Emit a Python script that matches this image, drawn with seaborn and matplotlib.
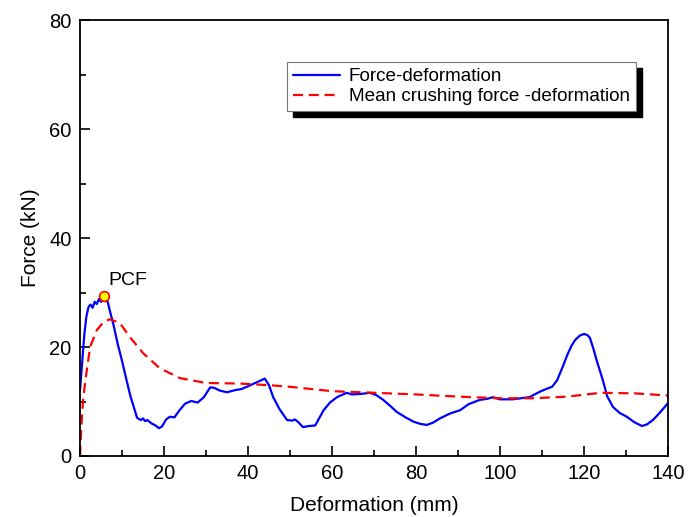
import numpy as np
import matplotlib
matplotlib.use("Agg")
import matplotlib.pyplot as plt
import seaborn as sns
from matplotlib.patches import Rectangle
from matplotlib.ticker import MultipleLocator

# force-deformation curve (mm, kN)
force_x = [0, 0.5, 1, 1.5, 2, 2.5, 3, 3.5, 4, 4.5, 5, 5.5, 6, 6.5, 7, 8, 9, 10, 11, 12,
           13, 13.6, 14.5, 15, 15.5, 16, 17, 18, 18.8, 19.5, 20.5, 21.4, 22.5, 23.5, 25,
           26.5, 28, 29.5, 31, 32, 33.3, 35, 37, 38.5, 40, 42, 44, 45, 46, 47.5, 49.3,
           50.5, 51.2, 52, 53.1, 54.5, 56, 57, 58, 59.5, 61.2, 63.5, 64.7, 67, 69, 70.5,
           72.2, 74, 75.4, 77.5, 79.4, 81, 82.6, 84, 85.7, 88.1, 90.5, 92.5, 95.2, 97,
           98.3, 100, 103, 105, 107, 109.5, 111, 112.4, 113.6, 115, 116, 117, 117.9, 119,
           120, 120.8, 121.4, 122.2, 123, 124.5, 125.5, 126.9, 128.5, 130.2, 132, 133.8,
           135, 136.4, 138, 140]
force_y = [12, 17, 22, 25.5, 27.3, 27.8, 27.2, 28.3, 27.9, 28.8, 28.3, 29.0, 28.4, 28.6,
           27.0, 24, 20.5, 17.5, 14.2, 11, 8.5, 7, 6.6, 6.9, 6.4, 6.6, 6.0, 5.6, 5.1, 5.4,
           6.7, 7.2, 7.1, 8.2, 9.6, 10.1, 9.8, 10.8, 12.6, 12.5, 12.0, 11.7, 12.1, 12.3,
           12.8, 13.5, 14.2, 13, 10.8, 8.6, 6.6, 6.5, 6.7, 6.2, 5.3, 5.5, 5.6, 7, 8.4, 9.8,
           10.8, 11.6, 11.3, 11.4, 11.6, 11.2, 10.3, 9.1, 8.1, 7.1, 6.3, 5.9, 5.7, 6.1, 6.9,
           7.8, 8.4, 9.5, 10.3, 10.5, 10.8, 10.4, 10.4, 10.6, 10.8, 11.8, 12.3, 12.7, 13.9,
           16.5, 18.5, 20.2, 21.3, 22.1, 22.4, 22.2, 21.7, 19.8, 17.6, 13.9, 11, 9, 7.9,
           7.2, 6.2, 5.5, 5.8, 6.6, 7.9, 9.7]

# mean crushing force curve
mean_x = [0, 0.3, 0.7, 1.2, 2.4, 4, 5.5, 7.1, 9.5, 11.9, 15, 19, 23.8, 30, 38, 45, 50,
          60, 70, 80, 90, 100, 108, 116, 124, 132, 140]
mean_y = [0, 5, 10, 13.4, 20, 23.1, 24.5, 25.1, 24.4, 21.8, 18.9, 16.1, 14.3, 13.4, 13.3,
          13.0, 12.7, 11.9, 11.6, 11.3, 10.9, 10.6, 10.6, 10.9, 11.6, 11.5, 11.1]

pcf_x = 5.7
pcf_y = 29.3

sns.set_style("ticks", {"axes.edgecolor": "black", "xtick.color": "black",
                        "ytick.color": "black", "text.color": "black",
                        "axes.labelcolor": "black"})
plt.rcParams["font.family"] = ["Liberation Sans", "DejaVu Sans"]

fig = plt.figure(figsize=(6.98, 5.17), dpi=100)
ax = fig.add_axes([0.1146, 0.118, 0.8424, 0.843])

sns.lineplot(x=force_x, y=force_y, ax=ax, color="#0000ff", lw=1.6, sort=False,
             estimator=None, label="Force-deformation")
sns.lineplot(x=mean_x, y=mean_y, ax=ax, color="#ff0000", lw=1.6, sort=False,
             estimator=None, label="Mean crushing force -deformation")
ax.lines[1].set_dashes([4.5, 2.6])

ax.plot(pcf_x, pcf_y, "o", ms=7, mfc="#ffff00", mec="#ff0000", mew=1.2, zorder=5)
ax.text(pcf_x + 1.0, pcf_y + 2.0, "PCF", fontsize=14)

ax.set_xlim(0, 140)
ax.set_ylim(0, 80)
ax.xaxis.set_major_locator(MultipleLocator(20))
ax.xaxis.set_minor_locator(MultipleLocator(10))
ax.yaxis.set_major_locator(MultipleLocator(20))
ax.yaxis.set_minor_locator(MultipleLocator(10))
ax.tick_params(which="major", direction="in", length=7, width=1.2, labelsize=14.5, pad=6)
ax.tick_params(which="minor", direction="in", length=4, width=1.2)
for s in ax.spines.values():
    s.set_visible(True)
    s.set_linewidth(1.3)

ax.set_xlabel("Deformation (mm)", fontsize=15, labelpad=9)
ax.set_ylabel("Force (kN)", fontsize=15, labelpad=7)

leg = ax.legend(loc="upper left", bbox_to_anchor=(0.352, 0.904), borderaxespad=0,
                fontsize=13.6, frameon=True, fancybox=False, framealpha=1,
                edgecolor="#777777", handlelength=2.5, handletextpad=0.45,
                labelspacing=0.15, borderpad=0.32)
leg.get_frame().set_linewidth(0.8)

# black drop shadow behind the legend box
fig.canvas.draw()
bb = leg.get_window_extent().transformed(ax.transAxes.inverted())
dx = 6 / (ax.bbox.width)
dy = 6 / (ax.bbox.height)
ax.add_patch(Rectangle((bb.x0 + dx, bb.y0 - dy), bb.width, bb.height,
                       transform=ax.transAxes, color="black", zorder=4.9,
                       clip_on=False))

fig.savefig("out.png", dpi=100)
